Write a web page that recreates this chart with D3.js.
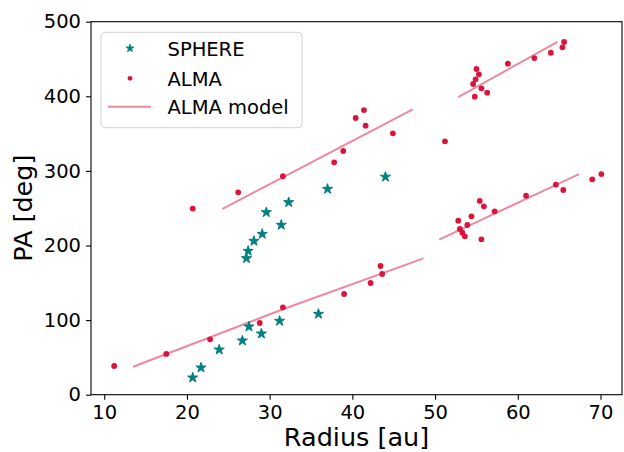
<!DOCTYPE html>
<html lang="en">
<head>
<meta charset="UTF-8">
<title>PA vs Radius</title>
<style>
  body { margin: 0; background: #fff; }
  text { font-family: "DejaVu Sans", sans-serif; fill: #000; }
</style>
</head>
<body>
<svg width="624" height="452"></svg>
<script src="https://d3js.org/d3.v7.min.js"></script>
<script>
// SPHERE points
const sphereR  = [20.7, 21.7, 23.9, 26.7, 27.5, 29.0, 31.2, 35.9, 27.2, 27.4, 28.1, 29.1, 31.4, 29.6, 32.3, 37.0, 44.0];
const spherePA = [22.8, 36.2, 60.3, 72.4, 91.2, 81.8, 98.8, 108.2, 182.8, 192.6, 206.0, 215.4, 227.5, 244.5, 257.9, 275.7, 292.0];

// ALMA points
const almaR  = [11.2, 17.5, 22.8, 28.8, 31.6, 39.0, 42.2, 43.4, 43.6,
                20.7, 26.2, 31.6, 37.8, 38.9, 40.4, 41.4, 41.6, 44.9,
                51.2,
                55.0, 55.3, 54.9, 54.6, 55.6, 54.8, 56.3, 58.8, 62.0, 64.0, 65.4, 65.6,
                55.4, 55.9, 54.4, 52.8, 53.9, 53.0, 53.3, 53.6, 55.6, 57.2, 61.0, 64.6, 65.5, 69.0, 70.1];
const almaPA = [38.5, 54.6, 74.2, 96.1, 117.1, 135.0, 149.7, 172.5, 161.8,
                249.5, 271.3, 292.8, 311.5, 326.7, 370.9, 381.6, 360.6, 350.4,
                339.7,
                436.6, 429.5, 422.8, 416.5, 410.7, 399.5, 404.8, 443.7, 451.3, 458.4, 465.7, 472.8,
                259.7, 252.5, 239.1, 233.2, 227.5, 222.1, 217.2, 212.3, 208.3, 245.8, 266.8, 281.5, 274.4, 288.7, 295.8];

// ALMA model, one entry per arm segment
const modelR  = [[13.5, 31.6, 48.6], [24.3, 47.3], [50.5, 67.4], [52.8, 64.8]];
const modelPA = [[37.5, 114.5, 182.8], [249.0, 382.6], [207.8, 295.8], [399.0, 472.8]];

const xTicks = [10, 20, 30, 40, 50, 60, 70];
const yTicks = [0, 100, 200, 300, 400, 500];

const teal = "#008080", crimson = "#dc143c";

const svg = d3.select("svg");
const pLeft = 91, pRight = 622, pTop = 21.7, pBottom = 394.7;

const x = d3.scaleLinear().domain([8.4, 72.6]).range([pLeft, pRight]);
const y = d3.scaleLinear().domain([0, 500]).range([pBottom, pTop]);

// model lines
const line = d3.line().x(d => x(d[0])).y(d => y(d[1]));
modelR.forEach((seg, i) => {
  svg.append("path")
    .attr("d", line(seg.map((r, j) => [r, modelPA[i][j]])))
    .attr("fill", "none")
    .attr("stroke", crimson)
    .attr("stroke-opacity", 0.5)
    .attr("stroke-width", 2);
});

// sphere stars
const star = d3.symbol().type(d3.symbolStar).size(32);
svg.append("g").selectAll("path")
  .data(sphereR)
  .join("path")
    .attr("d", star)
    .attr("transform", (d, i) => `translate(${x(d)},${y(spherePA[i])})`)
    .attr("fill", teal)
    .attr("stroke", teal)
    .attr("stroke-width", 1)
    .attr("stroke-linejoin", "round");

// alma dots
svg.append("g").selectAll("circle")
  .data(almaR)
  .join("circle")
    .attr("cx", d => x(d))
    .attr("cy", (d, i) => y(almaPA[i]))
    .attr("r", 2.9)
    .attr("fill", crimson);

// axes
const xAxis = svg.append("g")
  .attr("transform", `translate(0,${pBottom})`)
  .call(d3.axisBottom(x).tickValues(xTicks).tickSize(5).tickPadding(5));
const yAxis = svg.append("g")
  .attr("transform", `translate(${pLeft},0)`)
  .call(d3.axisLeft(y).tickValues(yTicks).tickSize(5).tickPadding(5));

[xAxis, yAxis].forEach(g => {
  g.select(".domain").remove();
  g.selectAll("line").attr("stroke", "#000").attr("stroke-width", 1.1);
  g.selectAll("text")
    .style("font-family", "'DejaVu Sans', sans-serif")
    .style("font-size", "19.5px")
    .attr("fill", "#000");
});

// spines
svg.append("rect")
  .attr("x", pLeft).attr("y", pTop)
  .attr("width", pRight - pLeft).attr("height", pBottom - pTop)
  .attr("fill", "none")
  .attr("stroke", "#000")
  .attr("stroke-width", 1.1);

// axis labels
svg.append("text")
  .attr("x", (pLeft + pRight) / 2).attr("y", 446)
  .attr("text-anchor", "middle")
  .style("font-size", "25.5px")
  .text("Radius [au]");
svg.append("text")
  .attr("transform", `translate(32,${(pTop + pBottom) / 2}) rotate(-90)`)
  .attr("text-anchor", "middle")
  .style("font-size", "25.5px")
  .text("PA [deg]");

// legend
const lg = svg.append("g");
lg.append("rect")
  .attr("x", 101).attr("y", 32.3)
  .attr("width", 201).attr("height", 95.4)
  .attr("rx", 4)
  .attr("fill", "#fff").attr("fill-opacity", 0.8)
  .attr("stroke", "#d0d0d0").attr("stroke-width", 1);

const legendRows = [48.3, 78.3, 106.7];
lg.append("path")
  .attr("d", d3.symbol().type(d3.symbolStar).size(20)())
  .attr("transform", `translate(130,${legendRows[0]})`)
  .attr("fill", teal)
  .attr("stroke", teal)
  .attr("stroke-width", 0.8)
  .attr("stroke-linejoin", "round");
lg.append("circle")
  .attr("cx", 130).attr("cy", legendRows[1]).attr("r", 2.4)
  .attr("fill", crimson);
lg.append("line")
  .attr("x1", 108).attr("x2", 151)
  .attr("y1", legendRows[2]).attr("y2", legendRows[2])
  .attr("stroke", crimson).attr("stroke-opacity", 0.5).attr("stroke-width", 2);

["SPHERE", "ALMA", "ALMA model"].forEach((t, i) => {
  lg.append("text")
    .attr("x", 167.5).attr("y", legendRows[i] + 7.3)
    .style("font-size", "19.5px")
    .text(t);
});
</script>
</body>
</html>
